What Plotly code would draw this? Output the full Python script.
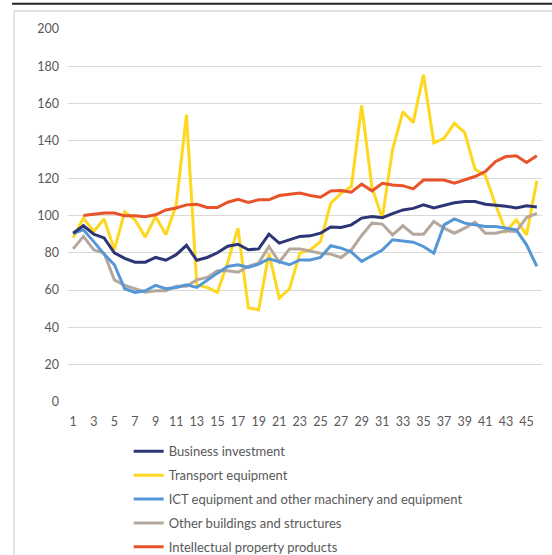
import plotly.graph_objects as go

periods = list(range(1, 47))

business_investment = [90.5, 94.5, 90, 88, 80, 77, 75, 75, 77.5, 76, 79, 84, 76, 77.5, 80, 83.5,
                       84.6, 81.6, 82.1, 90, 85.2, 87, 88.8, 89.1, 90.5, 93.8, 93.6, 95, 98.6, 99.5,
                       98.8, 101, 103, 103.8, 105.7, 104, 105.5, 106.8, 107.5, 107.5, 106, 105.5, 105,
                       104, 105.2, 104.5]
transport_equipment = [88, 98.6, 91.4, 98.2, 81.6, 102, 97.7, 88.4, 99.5, 89.7, 105.7, 154, 62.9,
                       61.4, 58.8, 75, 93.2, 50.4, 49.5, 79.8, 55.7, 60.7, 79.8, 81.6, 86, 106.6,
                       112, 115.5, 159, 115, 98.6, 135.5, 155.6, 149.8, 175.5, 139, 141.4, 149.4,
                       144.4, 124.8, 121.5, 105.7, 91.4, 97.7, 89.6, 118.6]
ict_machinery = [90.5, 92.3, 86, 79.3, 73.6, 60.7, 58.8, 59.6, 62.5, 60.7, 61.4, 62.9, 61.4, 65.5,
                 69.1, 72.7, 73.6, 72.1, 73.9, 76.8, 75.4, 73.6, 76.2, 76.2, 77.5, 83.8, 82.5, 80.4,
                 75.4, 78.6, 81.5, 87, 86.4, 85.7, 83.4, 79.8, 95, 98.2, 95.9, 95, 94.1, 94.1, 93.2,
                 92.3, 84.3, 72.7]
other_buildings = [82.1, 88.8, 81.6, 79.8, 65.5, 62.5, 60.7, 58.9, 59.6, 59.6, 62, 62, 65.5, 66.8,
                   70.4, 70.4, 69.6, 72.7, 74.5, 83.4, 75, 82.1, 82.1, 81, 79.8, 79.3, 77.5, 81.6,
                   89.3, 95.9, 95.4, 89.6, 94.5, 90, 90, 96.8, 93.2, 90.5, 93.2, 96.4, 90.5, 90.5,
                   91.8, 91.4, 98.9, 101.2]
ipp = [None, 100, 100.7, 101.3, 101.3, 99.8, 99.8, 99.3, 100.4, 103, 104, 105.7, 106, 104.3, 104.3,
       107.1, 108.7, 107, 108.4, 108.4, 110.7, 111.4, 112, 110.7, 109.8, 113.2, 113.4, 112.5,
       116.8, 113.2, 117.3, 116.4, 116, 114.3, 119, 119, 119, 117.3, 119, 120.9, 123.6, 129,
       131.6, 132, 128.4, 132]

series_names = ["Business investment", "Transport equipment",
                "ICT equipment and other machinery and equipment",
                "Other buildings and structures", "Intellectual property products"]
series_values = [business_investment, transport_equipment, ict_machinery, other_buildings, ipp]
series_colors = ["#2C3575", "#FFD71F", "#5596D6", "#B4A79D", "#E8532A"]

x_tick_vals = list(range(1, 46, 2))
y_tick_vals = list(range(0, 201, 20))

FONT = "Lato, 'Open Sans', sans-serif"
TEXT = "#595959"

fig = go.Figure()
# draw order: keep business investment on top like the reference
draw_order = [1, 3, 2, 4, 0]
for idx in draw_order:
    fig.add_trace(go.Scatter(
        x=periods, y=series_values[idx], name=series_names[idx], mode="lines",
        line=dict(color=series_colors[idx], width=3),
        legendgroup=str(idx), legendrank=idx + 1,
    ))

fig.update_layout(
    width=552, height=555,
    margin=dict(l=68, r=10, t=29, b=153, autoexpand=False),
    paper_bgcolor="white", plot_bgcolor="white",
    font=dict(family=FONT, size=12, color=TEXT),
    showlegend=True,
    legend=dict(x=0.128, y=-0.092, xanchor="left", yanchor="top",
                traceorder="grouped", tracegroupgap=4,
                font=dict(family=FONT, size=13, color=TEXT),
                bgcolor="rgba(0,0,0,0)"),
    xaxis=dict(range=[0.5, 46.5], tickmode="array", tickvals=x_tick_vals,
               ticktext=[str(v) for v in x_tick_vals], showgrid=False,
               showline=False, zeroline=False, ticks="", ticklen=0,
               ticklabelstandoff=10,
               tickfont=dict(size=12.5, color=TEXT)),
    yaxis=dict(range=[0, 200], tickmode="array", tickvals=y_tick_vals,
               showgrid=True, gridcolor="#D9D9D9", gridwidth=1,
               zeroline=False, showline=False, ticks="",
               ticklabelstandoff=8,
               tickfont=dict(size=12.5, color=TEXT)),
    shapes=[
        dict(type="line", xref="paper", yref="paper", layer="above",
             x0=-0.118, x1=1.03, y0=1.068, y1=1.068,
             line=dict(color="#222222", width=2)),
        dict(type="line", xref="paper", yref="paper", layer="above",
             x0=-0.1138, x1=-0.1138, y0=1.048, y1=-0.42,
             line=dict(color="#D9D9D9", width=1.5)),
        dict(type="line", xref="paper", yref="paper", layer="above",
             x0=-0.1138, x1=1.03, y0=1.048, y1=1.048,
             line=dict(color="#D9D9D9", width=1.5)),
    ],
)

fig.write_html(
    "out.html",
    config={"displayModeBar": False},
    post_script="document.documentElement.style.margin='0';"
                "document.body.style.margin='0';",
)
